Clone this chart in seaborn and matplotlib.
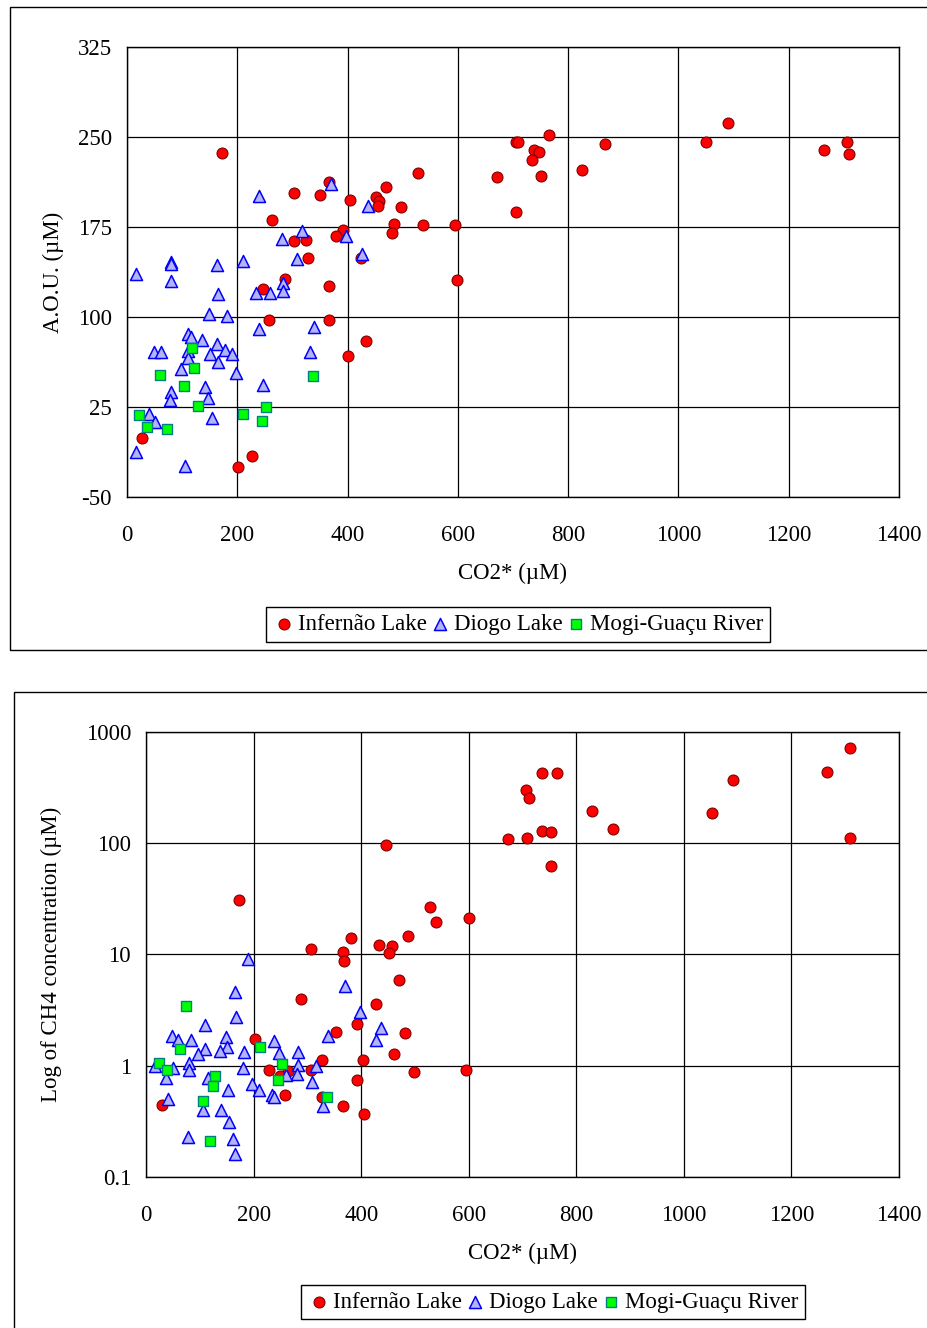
import numpy as np
import pandas as pd
import matplotlib.pyplot as plt
import matplotlib.patches as mpatches
import seaborn as sns

# ---- top panel: A.O.U. vs CO2* ----
inf_co2_a = [171.7, 302.9, 349.4, 366.3, 403.8, 451, 457.6, 454.6, 469.2, 496.9,
             527.7, 671.6, 705, 709.7, 705.5, 262.4, 391.7, 379, 484.2, 537.4,
             594.8, 481.2, 302.9, 325.2, 328.3, 425, 287.1, 247.2, 598.5, 365.8,
             258.1, 365.8, 434, 400.8, 27.8, 226.7, 200.7, 738.7, 747.8, 733.9,
             751.4, 765.3, 825.8, 867.6, 1050.1, 1090.6, 1264.6, 1306.3, 1309.4]
inf_aou = [236.4, 203.1, 201.7, 212.2, 197.5, 199.7, 196.7, 192.5, 208.6, 191.9,
           219.7, 216.4, 245.6, 245.6, 187.2, 180.8, 172.5, 167.8, 177.5, 176.4,
           176.4, 169.7, 163.6, 163.9, 149.4, 148.9, 131.4, 123.3, 131.1, 125.6,
           97.5, 97.5, 80, 67.8, -1.1, -15.6, -24.7, 239.4, 237.2, 230.8,
           217.5, 251.9, 222.8, 243.9, 245.6, 261.4, 239.4, 245.6, 236.1]

dio_co2_a = [17, 80.4, 80.4, 80.4, 163.2, 209.8, 239.4, 370.5, 436.5, 316.8,
             280.5, 397.8, 307.7, 426.8, 282.9, 282.3, 234, 259.3, 165.6, 148.7,
             180.8, 239.4, 339.1, 331.9, 111.2, 116.1, 136.6, 163.2, 178.3, 191,
             151.1, 49.5, 62.2, 110, 110, 165.6, 97.3, 197.7, 141.5, 146.9,
             79.8, 78, 246.1, 39.4, 51.4, 154.2, 17, 105.8]
dio_aou = [135.6, 146, 144, 130, 143.3, 146.7, 200.6, 210.8, 192.8, 171.9,
           164.7, 167.8, 148.6, 152.2, 128.1, 121.7, 119.8, 119.8, 118.9, 102.2,
           100.8, 90, 91.9, 71.1, 85.6, 83.1, 80.8, 77.8, 72.5, 69.4,
           69.4, 71.1, 71.1, 71.4, 65.8, 62.3, 56.7, 53, 41.9, 32.3,
           37.8, 30.8, 43.3, 19.2, 12.2, 15.6, -12.2, -23.9]

mog_co2_a = [117.3, 121.5, 59.8, 104, 337.9, 129.3, 252.7, 21.2, 209.8, 245.4, 35.7, 72.5]
mog_aou = [74.1, 57.2, 51.4, 42.8, 50.8, 26.1, 25.3, 18.3, 18.9, 13.1, 8.1, 6.9]

# ---- bottom panel: CH4 vs CO2* ----
inf_co2_b = [172.3, 445, 673.6, 305.6, 365.6, 368, 380.5, 432.5, 457.2, 450.5,
             486.4, 528.6, 539, 600.4, 470.3, 288.1, 427.5, 392.2, 352.6, 480.3,
             460.4, 326, 402.8, 202.6, 228.6, 264, 305.6, 248.5, 497.6, 595.5,
             392.2, 257.8, 326, 365, 405.2, 29.7, 707.6, 736.8, 752.2, 752.2,
             706.3, 712.6, 735.9, 764.7, 828.4, 868.8, 1052.8, 1090.5, 1265.8, 1308,
             1308]
inf_ch4 = [30.5, 95.7, 107.7, 11.1, 10.4, 8.75, 13.9, 12.2, 11.9, 10.3,
           14.7, 26.4, 19.5, 21, 5.9, 4.0, 3.55, 2.39, 2.01, 1.97,
           1.27, 1.13, 1.12, 1.72, 0.91, 0.89, 0.91, 0.80, 0.88, 0.92,
           0.75, 0.55, 0.52, 0.43, 0.37, 0.44, 110.7, 128.8, 124.5, 62,
           297, 252, 425, 425, 192, 134, 184.5, 370, 436, 713,
           110]

dio_co2_b = [188.5, 164.9, 166.7, 369.3, 396.6, 436.8, 426.4, 337.2, 109.1, 48.3,
             58.4, 82.5, 147.6, 149.4, 109.1, 96.7, 136.4, 181.6, 236.8, 247.2,
             282, 79.4, 79.4, 16.7, 50.2, 36.6, 179.2, 282, 315.4, 279.6,
             259.1, 114.1, 307.4, 151.9, 196.5, 210, 233.1, 236.8, 39.8, 104.8,
             138.8, 329, 154.3, 76.9, 161.7, 164.3]
dio_ch4 = [9.0, 4.6, 2.75, 5.2, 3.05, 2.19, 1.70, 1.84, 2.31, 1.84,
           1.70, 1.70, 1.79, 1.48, 1.41, 1.26, 1.36, 1.33, 1.66, 1.29,
           1.33, 1.05, 0.91, 0.99, 0.95, 0.77, 0.95, 1.01, 0.99, 0.84,
           0.82, 0.77, 0.71, 0.60, 0.69, 0.60, 0.54, 0.52, 0.50, 0.40,
           0.40, 0.43, 0.31, 0.23, 0.22, 0.16]

mog_co2_b = [73.2, 63.2, 23.6, 39, 210.8, 252.8, 245.4, 128.3, 123.4, 105.4, 335.9, 118.4]
mog_ch4 = [3.4, 1.40, 1.06, 0.91, 1.48, 1.03, 0.74, 0.80, 0.66, 0.48, 0.52, 0.21]

x_ticks = [0, 200, 400, 600, 800, 1000, 1200, 1400]
aou_ticks = [-50, 25, 100, 175, 250, 325]
ch4_ticks = [0.1, 1, 10, 100, 1000]
ch4_labels = ['0.1', '1', '10', '100', '1000']

labels = ['Infernão Lake', 'Diogo Lake', 'Mogi-Guaçu River']

sns.set_theme(style='white')
plt.rcParams['font.family'] = ['Liberation Serif', 'DejaVu Serif']
plt.rcParams['axes.unicode_minus'] = False

fig = plt.figure(figsize=(9.27, 13.28), dpi=100)

# outer chart frames (right side runs off the image)
fig.patches.append(mpatches.Rectangle((10 / 927, 1 - 650 / 1328), 1.0, 643 / 1328,
                                      transform=fig.transFigure, fill=False,
                                      edgecolor='black', lw=1.0))
fig.patches.append(mpatches.Rectangle((14 / 927, 1 - 1340 / 1328), 1.0, 648 / 1328,
                                      transform=fig.transFigure, fill=False,
                                      edgecolor='black', lw=1.0))

ax1 = fig.add_axes([127 / 927, 1 - 497 / 1328, 772 / 927, 450 / 1328])
ax2 = fig.add_axes([146.3 / 927, 1 - 1177 / 1328, 752.7 / 927, 445.4 / 1328])

circ = dict(marker='o', color='#ff0000', edgecolor='#800000', s=62, linewidth=0.8)
tri = dict(marker='^', color='#b4b4f5', edgecolor='#0000ff', s=75, linewidth=1.1)
sq = dict(marker='s', color='#00ff00', edgecolor='#008080', s=55, linewidth=1.0)


def style_axes(ax):
    ax.set_xlim(0, 1400)
    ax.set_xticks(x_ticks)
    ax.grid(True, color='black', lw=0.9)
    ax.set_axisbelow(True)
    for sp in ax.spines.values():
        sp.set_color('black')
        sp.set_linewidth(1.0)
    ax.tick_params(axis='both', which='major', direction='out', length=6,
                   width=1, color='black', labelsize=16.5, labelcolor='black')
    ax.tick_params(axis='x', pad=14)
    ax.tick_params(axis='y', pad=5)
    ax.tick_params(which='minor', length=0)
    ax.set_xlabel('CO2* (µM)', fontsize=16.5, color='black', labelpad=12)


# top panel
sns.scatterplot(x=inf_co2_a, y=inf_aou, ax=ax1, label=labels[0], **circ)
sns.scatterplot(x=dio_co2_a, y=dio_aou, ax=ax1, label=labels[1], **tri)
sns.scatterplot(x=mog_co2_a, y=mog_aou, ax=ax1, label=labels[2], **sq)
style_axes(ax1)
ax1.set_ylim(-50, 325)
ax1.set_yticks(aou_ticks)
ax1.set_ylabel('A.O.U. (µM)', fontsize=16.5, color='black', labelpad=10)

# bottom panel
sns.scatterplot(x=inf_co2_b, y=inf_ch4, ax=ax2, label=labels[0], **circ)
sns.scatterplot(x=dio_co2_b, y=dio_ch4, ax=ax2, label=labels[1], **tri)
sns.scatterplot(x=mog_co2_b, y=mog_ch4, ax=ax2, label=labels[2], **sq)
ax2.set_yscale('log')
style_axes(ax2)
ax2.set_ylim(0.1, 1000)
ax2.set_yticks(ch4_ticks)
ax2.set_yticklabels(ch4_labels)
ax2.yaxis.set_minor_locator(plt.NullLocator())
ax2.set_ylabel('Log of CH4 concentration (µM)', fontsize=16.5, color='black', labelpad=17)

for ax, cx, cy in [(ax1, 518 / 927, 1 - 624.5 / 1328), (ax2, 553 / 927, 1 - 1302 / 1328)]:
    ax.legend_.remove()
    h, l = ax.get_legend_handles_labels()
    leg = fig.legend(h, l, loc='center', bbox_to_anchor=(cx, cy), ncol=3,
                     fontsize=16.5, frameon=True, fancybox=False, edgecolor='black',
                     framealpha=1, handletextpad=0.1, columnspacing=0.1,
                     handlelength=1.0, borderpad=0.3, borderaxespad=0,
                     markerscale=1.0)
    leg.get_frame().set_linewidth(1.0)
    for t in leg.get_texts():
        t.set_color('black')

fig.savefig('out.png', dpi=100)
